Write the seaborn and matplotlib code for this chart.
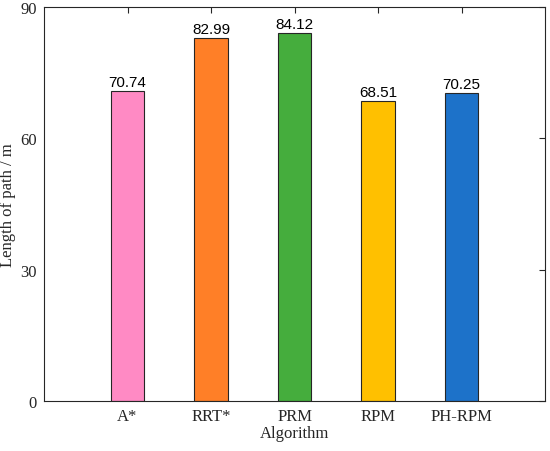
import matplotlib
matplotlib.use("Agg")
import matplotlib.pyplot as plt
import seaborn as sns
import pandas as pd

# Path length per algorithm
algorithms = ["A*", "RRT*", "PRM", "RPM", "PH-RPM"]
lengths = [70.74, 82.99, 84.12, 68.51, 70.25]
colors = ["#FF8AC4", "#FF7F27", "#45AD3D", "#FFC000", "#1D72C9"]
y_ticks = [0, 30, 60, 90]

df = pd.DataFrame({"Algorithm": algorithms, "Length": lengths})

sns.set_style("white")
plt.rcParams["font.family"] = ["Liberation Serif", "DejaVu Serif"]

fig = plt.figure(figsize=(5.5, 4.52), dpi=100)
ax = fig.add_axes([0.08, 0.1106, 0.911, 0.8717])

sns.barplot(data=df, x="Algorithm", y="Length", hue="Algorithm",
            palette=colors, saturation=1, width=0.4, edgecolor="#262626",
            linewidth=0.8, legend=False, ax=ax)

for i, v in enumerate(lengths):
    ax.text(i, v + 0.5, f"{v:.2f}", ha="center", va="bottom",
            fontsize=11, color="black", family=["Liberation Sans", "DejaVu Sans"])

ax.set_xlim(-1, 5)
ax.set_ylim(0, 90)
ax.set_yticks(y_ticks)
ax.set_xlabel("Algorithm", fontsize=12, labelpad=1, color="#262626")
ax.set_ylabel("Length of path / m", fontsize=12, labelpad=3, color="#262626")
ax.tick_params(direction="in", length=4, width=0.8, colors="#262626",
               labelsize=12, top=True, right=True, labelcolor="#262626", pad=5)
for s in ax.spines.values():
    s.set_visible(True)
    s.set_color("#262626")
    s.set_linewidth(0.8)

fig.savefig("out.png", dpi=100)
